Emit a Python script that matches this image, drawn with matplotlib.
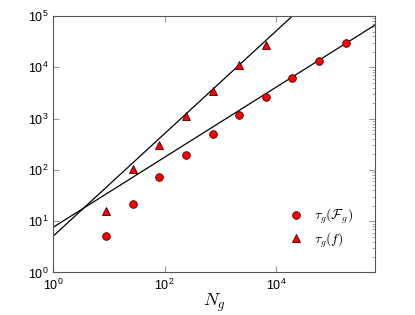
import numpy as np
import matplotlib
matplotlib.use('Agg')
import matplotlib.pyplot as plt
from matplotlib.ticker import FuncFormatter, LogLocator

plt.rcParams['mathtext.fontset'] = 'cm'
plt.rcParams['font.family'] = ['Liberation Sans', 'DejaVu Sans']

# graph sizes N_g
n_circ = [9, 27, 81, 243, 729, 2187, 6561, 19683, 59049, 177147]
tau_F = [5.1, 22, 72, 195, 500, 1180, 2680, 6100, 13500, 29300]

n_tri = [9, 27, 81, 243, 729, 2187, 6561]
tau_f = [16, 104, 305, 1130, 3500, 11000, 27500]

# power-law fits: tau = a * N^b
fit_F = (7.6, 0.683)
fit_f = (5.1, 1.0)

fig = plt.figure(figsize=(4.15, 3.15), dpi=100)
ax = fig.add_axes([0.128, 0.135, 0.776, 0.814])

xx = np.logspace(0, 6, 200)
ax.plot(xx, fit_F[0] * xx ** fit_F[1], color='black', lw=0.9)
ax.plot(xx, fit_f[0] * xx ** fit_f[1], color='black', lw=0.9)

ax.plot(n_circ, tau_F, 'o', color='red', mec='#400000', mew=0.6, ms=5.5,
        label=r'$\tau_g(\mathcal{F}_g)$')
ax.plot(n_tri, tau_f, '^', color='red', mec='#400000', mew=0.6, ms=6,
        label=r'$\tau_g(f)$')

ax.set_xscale('log')
ax.set_yscale('log')
ax.set_xlim(1, 6e5)
ax.set_ylim(1, 1e5)

ax.xaxis.set_major_locator(LogLocator(base=100))
ax.yaxis.set_major_locator(LogLocator(base=10))
fmt = FuncFormatter(lambda v, p: r'$\mathregular{10^{%d}}$' % round(np.log10(v)))
ax.xaxis.set_major_formatter(fmt)
ax.yaxis.set_major_formatter(fmt)
ax.tick_params(which='both', direction='in', top=True, right=True,
               color='#999999', labelsize=9)
ax.tick_params(which='major', length=4)
# minor ticks only show on the right edge in the original
ax.tick_params(which='minor', length=2, left=False, bottom=False, top=False)
for s in ax.spines.values():
    s.set_color('#555555')

ax.set_xlabel(r'$N_g$', fontsize=13)
ax.xaxis.set_label_coords(0.5, -0.075)
ax.legend(loc='lower right', bbox_to_anchor=(0.97, 0.04), frameon=False,
          numpoints=1, fontsize=10, handletextpad=0.3, labelspacing=0.3)

fig.savefig('out.png', dpi=100)
